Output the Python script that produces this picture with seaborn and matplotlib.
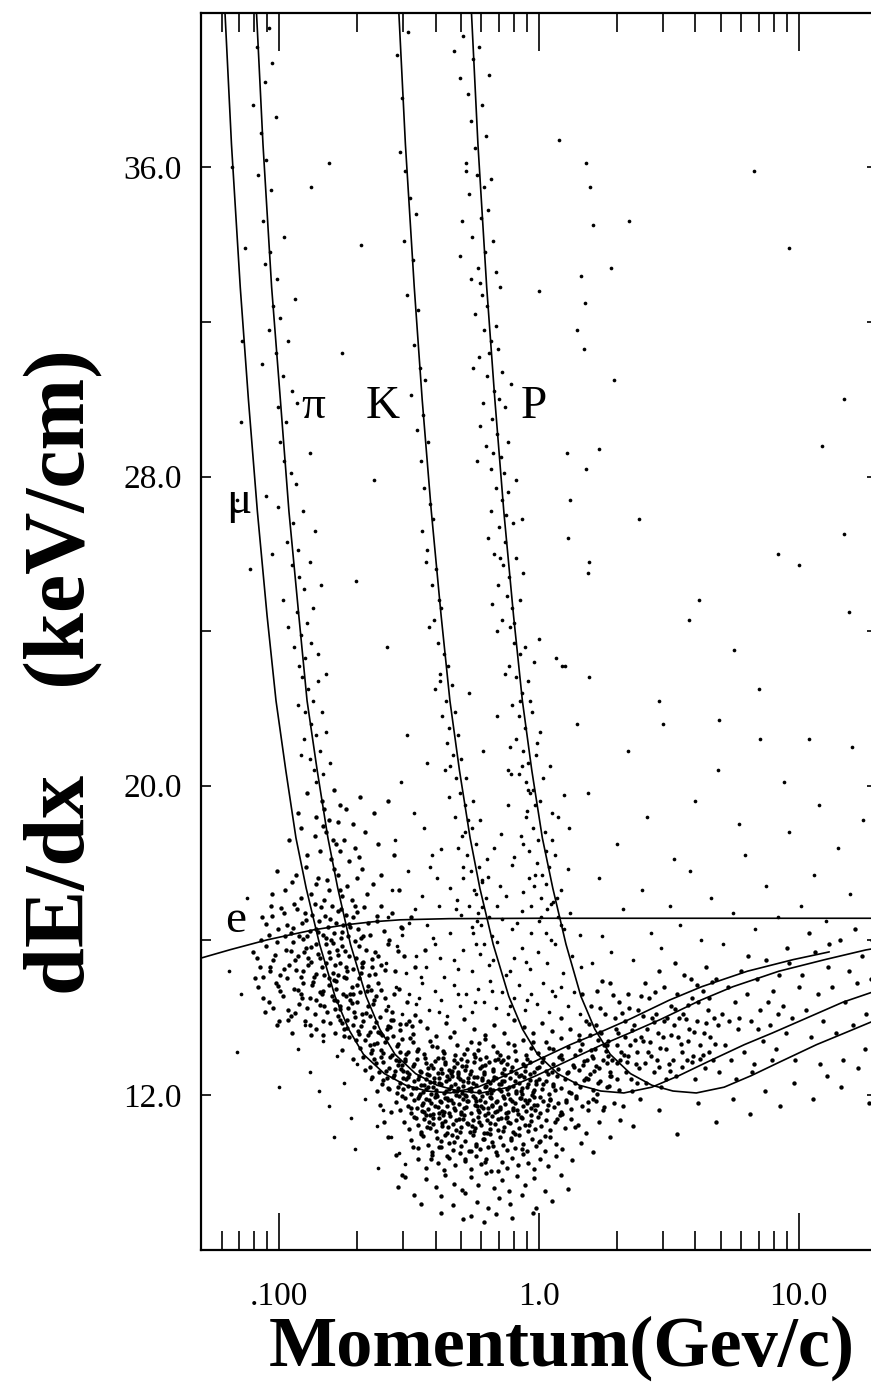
import matplotlib
matplotlib.use("Agg")
import matplotlib.pyplot as plt
from matplotlib.ticker import NullFormatter, FixedLocator
import pandas as pd
import seaborn as sns

# ---------------- expected dE/dx bands (p in GeV/c, dE/dx in keV/cm) ----------------
mu_p = [0.0602, 0.0655, 0.0708, 0.0761, 0.0824, 0.0898, 0.0972, 0.106, 0.116, 0.127,
        0.143, 0.164, 0.185, 0.211, 0.254, 0.307, 0.370, 0.455, 0.581, 0.740,
        0.951, 1.32, 1.69, 2.22, 3.17, 4.23, 6.34, 9.51, 13.1]
mu_dedx = [41.6, 36.6, 32.9, 30.0, 27.1, 24.4, 22.2, 20.4, 18.65, 17.35,
           15.9, 14.55, 13.7, 13.05, 12.55, 12.25, 12.1, 12.05, 12.2, 12.5,
           12.85, 13.3, 13.6, 13.95, 14.45, 14.8, 15.2, 15.5, 15.7]

pi_p = [0.0796, 0.0866, 0.0935, 0.101, 0.109, 0.119, 0.128, 0.140, 0.154, 0.168,
        0.188, 0.216, 0.244, 0.279, 0.335, 0.405, 0.489, 0.600, 0.768, 0.977,
        1.26, 1.75, 2.23, 2.93, 4.19, 5.58, 8.38, 12.6, 18.1, 20.0]
pi_dedx = [41.6, 36.6, 32.9, 30.0, 27.1, 24.4, 22.2, 20.4, 18.65, 17.35,
           15.9, 14.55, 13.7, 13.05, 12.55, 12.25, 12.1, 12.05, 12.2, 12.5,
           12.85, 13.3, 13.6, 13.95, 14.45, 14.8, 15.2, 15.5, 15.75, 15.8]

k_p = [0.281, 0.306, 0.331, 0.355, 0.385, 0.420, 0.454, 0.494, 0.543, 0.592,
       0.666, 0.765, 0.864, 0.987, 1.18, 1.43, 1.73, 2.12, 2.72, 3.46,
       4.44, 6.17, 7.90, 10.4, 14.8, 20.0]
k_dedx = [41.6, 36.6, 32.9, 30.0, 27.1, 24.4, 22.2, 20.4, 18.65, 17.35,
          15.9, 14.55, 13.7, 13.05, 12.55, 12.25, 12.1, 12.05, 12.2, 12.5,
          12.85, 13.3, 13.6, 13.95, 14.4, 14.7]

pr_p = [0.535, 0.582, 0.629, 0.676, 0.732, 0.798, 0.863, 0.938, 1.03, 1.13,
        1.27, 1.45, 1.64, 1.88, 2.25, 2.72, 3.28, 4.03, 5.16, 6.57,
        8.44, 11.7, 15.0, 20.0]
pr_dedx = [41.6, 36.6, 32.9, 30.0, 27.1, 24.4, 22.2, 20.4, 18.65, 17.35,
           15.9, 14.55, 13.7, 13.05, 12.55, 12.25, 12.1, 12.05, 12.2, 12.5,
           12.85, 13.3, 13.6, 13.95]

e_p = [0.05, 0.065, 0.0897, 0.11, 0.1355, 0.18, 0.23, 0.292, 0.45, 1.0, 20.0]
e_dedx = [15.54, 15.76, 16.01, 16.14, 16.27, 16.4, 16.48, 16.53, 16.56, 16.57, 16.57]

# ---------------- measured tracks (p, dE/dx) ----------------
pion_high = [
    (0.082, 39.1), (0.088, 38.2), (0.079, 37.6), (0.091, 39.6), (0.085, 36.9), (0.089, 36.2),
    (0.093, 35.4), (0.083, 35.8), (0.097, 37.3), (0.087, 34.6), (0.092, 33.8), (0.098, 33.1),
    (0.095, 32.4), (0.088, 33.5), (0.104, 34.2), (0.101, 32.1), (0.091, 31.8), (0.097, 31.2),
    (0.103, 30.6), (0.108, 31.5), (0.099, 29.8), (0.112, 30.2), (0.086, 30.9), (0.106, 29.4),
    (0.117, 29.9), (0.101, 28.9), (0.104, 28.4), (0.111, 28.1), (0.089, 27.5), (0.116, 27.8),
    (0.131, 28.6), (0.099, 27.2), (0.113, 26.8), (0.124, 27.1), (0.107, 26.3), (0.118, 26.1),
    (0.137, 26.6), (0.094, 26.0), (0.112, 25.7), (0.119, 25.4), (0.125, 25.1), (0.131, 25.8),
    (0.103, 24.8), (0.117, 24.5), (0.128, 24.2), (0.121, 23.9), (0.135, 24.6), (0.114, 23.6),
    (0.126, 23.3), (0.133, 23.7), (0.119, 23.1), (0.141, 23.4), (0.108, 24.1), (0.122, 22.8),
    (0.129, 22.5), (0.135, 22.2), (0.126, 21.9), (0.141, 22.7), (0.118, 22.1), (0.132, 21.6),
    (0.138, 21.3), (0.146, 21.9), (0.125, 21.2), (0.143, 20.9), (0.131, 20.7), (0.151, 21.4),
    (0.136, 20.4), (0.148, 20.3), (0.121, 20.8), (0.157, 20.6), (0.139, 20.1), (0.071, 29.4),
    (0.074, 33.9), (0.077, 25.6), (0.094, 38.7), (0.115, 32.6), (0.145, 25.2), (0.152, 22.9),
]

electron_cluster = [
    (0.128, 19.8), (0.146, 19.6), (0.163, 19.9), (0.181, 19.4), (0.139, 19.2), (0.155, 19.1),
    (0.172, 19.5), (0.205, 19.7), (0.231, 19.3), (0.149, 19.4), (0.192, 19.0), (0.262, 19.6),
    (0.118, 19.3), (0.168, 19.05), (0.121, 18.9), (0.137, 18.7), (0.152, 18.8), (0.166, 18.5),
    (0.143, 18.3), (0.158, 18.1), (0.178, 18.6), (0.196, 18.4), (0.214, 18.8), (0.128, 18.2),
    (0.185, 18.05), (0.241, 18.5), (0.161, 18.6), (0.109, 18.6), (0.276, 18.2), (0.203, 18.15),
    (0.147, 18.95), (0.172, 18.3), (0.098, 17.8), (0.112, 17.5), (0.127, 17.9), (0.141, 17.6),
    (0.156, 17.3), (0.133, 17.2), (0.168, 17.7), (0.149, 17.05), (0.183, 17.4), (0.121, 17.1),
    (0.175, 17.15), (0.199, 17.6), (0.217, 17.2), (0.105, 17.3), (0.162, 17.85), (0.138, 17.45),
    (0.246, 17.7), (0.191, 17.05), (0.229, 17.45), (0.289, 17.3), (0.116, 17.7), (0.153, 17.55),
    (0.094, 17.2), (0.172, 17.3), (0.208, 17.85),
    (0.086, 16.6), (0.093, 16.9), (0.099, 16.3), (0.104, 16.7), (0.111, 16.2), (0.117, 16.8),
    (0.122, 16.45), (0.128, 16.1), (0.134, 16.65), (0.139, 16.3), (0.145, 16.85), (0.151, 16.05),
    (0.157, 16.55), (0.163, 16.2), (0.169, 16.75), (0.176, 16.4), (0.184, 16.1), (0.192, 16.6),
    (0.201, 16.3), (0.212, 16.85), (0.224, 16.15), (0.238, 16.5), (0.253, 16.25), (0.271, 16.7),
    (0.295, 16.35), (0.321, 16.6), (0.091, 16.15), (0.107, 16.4), (0.114, 16.95), (0.126, 16.7),
    (0.131, 16.25), (0.142, 16.5), (0.148, 16.15), (0.159, 16.9), (0.166, 16.45), (0.173, 16.05),
    (0.181, 16.65), (0.196, 16.9), (0.207, 16.05), (0.219, 16.45), (0.119, 16.1), (0.137, 16.95),
    (0.154, 16.35), (0.247, 16.9), (0.187, 16.35),
    (0.079, 15.7), (0.084, 15.3), (0.089, 15.85), (0.095, 15.5), (0.101, 15.1), (0.106, 15.75),
    (0.109, 15.35), (0.113, 15.95), (0.118, 15.6), (0.123, 15.2), (0.127, 15.8), (0.132, 15.45),
    (0.136, 15.05), (0.141, 15.65), (0.146, 15.3), (0.152, 15.9), (0.157, 15.55), (0.161, 15.15),
    (0.167, 15.75), (0.172, 15.4), (0.178, 15.05), (0.186, 15.6), (0.193, 15.25), (0.202, 15.85),
    (0.211, 15.45), (0.221, 15.1), (0.233, 15.7), (0.246, 15.35), (0.262, 15.9), (0.279, 15.2),
    (0.301, 15.6), (0.333, 15.3), (0.365, 15.75), (0.087, 15.05), (0.098, 15.95), (0.104, 15.25),
    (0.115, 15.5), (0.121, 15.05), (0.129, 15.35), (0.138, 15.9), (0.144, 15.55), (0.149, 15.1),
    (0.155, 15.7), (0.164, 15.35), (0.175, 15.85), (0.183, 15.2), (0.197, 15.55), (0.207, 15.15),
    (0.216, 15.75), (0.227, 15.3), (0.082, 15.55), (0.092, 15.2), (0.125, 15.7), (0.169, 15.1),
    (0.239, 15.6),
    (0.083, 14.8), (0.091, 14.4), (0.097, 14.9), (0.103, 14.55), (0.108, 14.2), (0.114, 14.75),
    (0.119, 14.35), (0.124, 14.9), (0.131, 14.5), (0.137, 14.1), (0.143, 14.65), (0.149, 14.3),
    (0.156, 14.85), (0.162, 14.45), (0.169, 14.05), (0.176, 14.6), (0.184, 14.25), (0.191, 14.8),
    (0.199, 14.4), (0.209, 14.1), (0.218, 14.7), (0.229, 14.35), (0.241, 14.9), (0.255, 14.5),
    (0.271, 14.15), (0.288, 14.75), (0.311, 14.4), (0.088, 14.15), (0.101, 14.7), (0.111, 14.05),
    (0.121, 14.6), (0.128, 14.25), (0.134, 14.85), (0.147, 14.7), (0.153, 14.15), (0.166, 14.75),
    (0.172, 14.3), (0.181, 14.55), (0.194, 14.15), (0.205, 14.65), (0.224, 14.05), (0.236, 14.55),
    (0.095, 14.25), (0.139, 14.45), (0.159, 14.55),
    (0.098, 13.8), (0.112, 13.6), (0.126, 13.9), (0.139, 13.7), (0.148, 13.55), (0.157, 13.85),
    (0.164, 13.6), (0.171, 13.95), (0.178, 13.7), (0.186, 13.5), (0.193, 13.8), (0.201, 13.65),
    (0.211, 13.9), (0.219, 13.55), (0.232, 13.75), (0.244, 13.6), (0.108, 13.95), (0.133, 13.55),
    (0.175, 13.85), (0.261, 13.7),
    (0.089, 16.42), (0.096, 15.62), (0.102, 16.84), (0.107, 15.02), (0.113, 16.31), (0.118, 14.72),
    (0.124, 16.04), (0.129, 15.54), (0.135, 14.92), (0.141, 16.21), (0.146, 14.62), (0.152, 15.42),
    (0.158, 16.02), (0.163, 14.96), (0.169, 15.62), (0.175, 16.22), (0.181, 15.32), (0.188, 14.46),
    (0.195, 15.98), (0.203, 15.02), (0.211, 16.12), (0.219, 14.82), (0.228, 15.52), (0.237, 16.62),
    (0.246, 14.72), (0.255, 15.22), (0.265, 16.02), (0.276, 14.62), (0.287, 15.72), (0.298, 16.32),
    (0.092, 15.32), (0.099, 14.82), (0.105, 16.12), (0.111, 15.72), (0.116, 15.22), (0.122, 14.52),
    (0.127, 16.52), (0.133, 15.82), (0.139, 15.12), (0.144, 14.32), (0.15, 16.62), (0.156, 15.02),
    (0.161, 15.92), (0.167, 14.42), (0.173, 16.82), (0.179, 15.72), (0.186, 16.42), (0.193, 14.62),
    (0.2, 16.72), (0.208, 15.42), (0.085, 16.02), (0.081, 15.02), (0.087, 14.52), (0.094, 16.62),
    (0.1, 13.92), (0.115, 14.12), (0.131, 13.82), (0.148, 13.92), (0.164, 14.22), (0.182, 13.72),
]

minimum_cloud = [
    (0.224, 13.62), (0.236, 13.88), (0.249, 13.55), (0.262, 13.79), (0.275, 13.95), (0.291, 13.67),
    (0.308, 13.84), (0.326, 13.58), (0.348, 13.91), (0.372, 13.72), (0.401, 13.53), (0.437, 13.86),
    (0.472, 13.64), (0.515, 13.97), (0.563, 13.7), (0.618, 13.56), (0.672, 13.82), (0.731, 13.61),
    (0.802, 13.93), (0.874, 13.75), (0.951, 13.59), (1.03, 13.87), (1.12, 13.66), (1.21, 13.98),
    (1.32, 13.71), (1.43, 13.54), (1.56, 13.83), (1.71, 13.63), (0.268, 13.76), (0.315, 13.9),
    (0.205, 13.22), (0.214, 13.41), (0.226, 13.08), (0.238, 13.33), (0.247, 13.15), (0.259, 13.47),
    (0.271, 13.02), (0.284, 13.27), (0.297, 13.44), (0.312, 13.11), (0.327, 13.36), (0.343, 13.19),
    (0.361, 13.05), (0.382, 13.4), (0.404, 13.24), (0.428, 13.13), (0.455, 13.49), (0.483, 13.29),
    (0.514, 13.07), (0.546, 13.38), (0.582, 13.17), (0.621, 13.45), (0.664, 13.26), (0.709, 13.03),
    (0.758, 13.35), (0.811, 13.14), (0.868, 13.42), (0.929, 13.21), (0.994, 13.09), (1.06, 13.37),
    (1.13, 13.18), (1.21, 13.46), (1.29, 13.25), (1.38, 13.04), (1.47, 13.32), (1.58, 13.16),
    (1.69, 13.43), (1.82, 13.28), (0.231, 13.31), (0.292, 13.12),
    (0.223, 12.71), (0.231, 12.93), (0.242, 12.58), (0.251, 12.84), (0.258, 12.62), (0.266, 12.97),
    (0.277, 12.52), (0.286, 12.78), (0.295, 12.66), (0.304, 12.89), (0.317, 12.55), (0.328, 12.74),
    (0.339, 12.92), (0.352, 12.6), (0.366, 12.83), (0.378, 12.51), (0.391, 12.69), (0.407, 12.95),
    (0.422, 12.57), (0.436, 12.8), (0.452, 12.64), (0.469, 12.91), (0.488, 12.53), (0.506, 12.76),
    (0.527, 12.87), (0.548, 12.61), (0.569, 12.98), (0.592, 12.7), (0.616, 12.54), (0.641, 12.85),
    (0.667, 12.68), (0.693, 12.94), (0.722, 12.56), (0.752, 12.79), (0.783, 12.63), (0.815, 12.9),
    (0.849, 12.52), (0.884, 12.75), (0.921, 12.86), (0.959, 12.59), (0.998, 12.72), (1.04, 12.96),
    (1.08, 12.55), (1.13, 12.81), (1.18, 12.66), (1.23, 12.92), (1.29, 12.58), (1.35, 12.77),
    (1.42, 12.64), (1.49, 12.88), (1.57, 12.53), (1.66, 12.74), (1.76, 12.9), (1.87, 12.6),
    (1.99, 12.82),
    (0.252, 12.38), (0.263, 12.19), (0.274, 12.46), (0.283, 12.05), (0.291, 12.31), (0.299, 12.14),
    (0.307, 12.42), (0.314, 12.23), (0.321, 12.02), (0.329, 12.35), (0.337, 12.17), (0.344, 12.48),
    (0.352, 12.26), (0.359, 12.08), (0.367, 12.4), (0.375, 12.21), (0.384, 12.03), (0.393, 12.33),
    (0.402, 12.12), (0.411, 12.45), (0.42, 12.27), (0.43, 12.06), (0.44, 12.37), (0.451, 12.16),
    (0.462, 12.49), (0.473, 12.29), (0.484, 12.1), (0.496, 12.41), (0.508, 12.22), (0.521, 12.01),
    (0.534, 12.34), (0.547, 12.18), (0.56, 12.47), (0.574, 12.25), (0.588, 12.07), (0.603, 12.39),
    (0.618, 12.2), (0.633, 12.04), (0.649, 12.32), (0.665, 12.13), (0.682, 12.44), (0.699, 12.28),
    (0.717, 12.09), (0.735, 12.36), (0.754, 12.15), (0.773, 12.43), (0.793, 12.24), (0.813, 12.05),
    (0.834, 12.3), (0.856, 12.11), (0.878, 12.46), (0.901, 12.2), (0.925, 12.38), (0.95, 12.07),
    (0.976, 12.27), (1.0, 12.42), (1.03, 12.14), (1.06, 12.35), (1.09, 12.03), (1.13, 12.29),
    (1.17, 12.48), (1.21, 12.18), (1.26, 12.4), (1.31, 12.08), (1.37, 12.31), (1.44, 12.21),
    (1.52, 12.45), (1.61, 12.12), (1.72, 12.36), (1.86, 12.24),
    (0.281, 11.82), (0.293, 11.61), (0.304, 11.93), (0.313, 11.7), (0.322, 11.52), (0.33, 11.86),
    (0.338, 11.66), (0.346, 11.97), (0.353, 11.74), (0.36, 11.55), (0.368, 11.89), (0.375, 11.63),
    (0.383, 11.78), (0.391, 11.51), (0.399, 11.95), (0.407, 11.69), (0.415, 11.84), (0.424, 11.58),
    (0.433, 11.91), (0.442, 11.72), (0.451, 11.54), (0.46, 11.87), (0.47, 11.65), (0.48, 11.99),
    (0.49, 11.77), (0.5, 11.56), (0.511, 11.9), (0.522, 11.68), (0.533, 11.83), (0.545, 11.53),
    (0.557, 11.96), (0.569, 11.73), (0.581, 11.6), (0.594, 11.88), (0.607, 11.67), (0.62, 11.81),
    (0.634, 11.52), (0.648, 11.94), (0.662, 11.71), (0.677, 11.57), (0.692, 11.85), (0.708, 11.64),
    (0.724, 11.98), (0.74, 11.76), (0.757, 11.55), (0.774, 11.89), (0.792, 11.62), (0.81, 11.8),
    (0.829, 11.51), (0.849, 11.92), (0.869, 11.7), (0.89, 11.58), (0.912, 11.86), (0.935, 11.66),
    (0.958, 11.95), (0.982, 11.74), (1.01, 11.54), (1.04, 11.83), (1.07, 11.61), (1.1, 11.9),
    (1.14, 11.69), (1.18, 11.79), (1.22, 11.56), (1.27, 11.87), (1.33, 11.64), (1.39, 11.93),
    (1.46, 11.72), (1.55, 11.6), (1.66, 11.84), (1.78, 11.68),
    (0.302, 11.31), (0.316, 11.12), (0.329, 11.44), (0.341, 11.21), (0.352, 11.03), (0.362, 11.37),
    (0.372, 11.16), (0.382, 11.48), (0.392, 11.26), (0.402, 11.07), (0.412, 11.4), (0.422, 11.19),
    (0.433, 11.33), (0.444, 11.02), (0.455, 11.45), (0.466, 11.24), (0.478, 11.1), (0.49, 11.38),
    (0.502, 11.17), (0.515, 11.47), (0.528, 11.28), (0.541, 11.05), (0.555, 11.35), (0.569, 11.14),
    (0.583, 11.42), (0.598, 11.22), (0.613, 11.01), (0.629, 11.34), (0.645, 11.13), (0.662, 11.46),
    (0.679, 11.25), (0.697, 11.08), (0.715, 11.39), (0.734, 11.18), (0.753, 11.43), (0.773, 11.27),
    (0.794, 11.04), (0.815, 11.36), (0.837, 11.15), (0.86, 11.41), (0.884, 11.23), (0.909, 11.06),
    (0.935, 11.32), (0.962, 11.11), (0.99, 11.44), (1.02, 11.2), (1.06, 11.36), (1.1, 11.09),
    (1.15, 11.29), (1.2, 11.47), (1.26, 11.14), (1.33, 11.38), (1.41, 11.22), (0.376, 11.29),
    (0.563, 11.06),
    (0.322, 10.84), (0.341, 10.62), (0.358, 10.93), (0.373, 10.71), (0.389, 10.53), (0.404, 10.88),
    (0.419, 10.66), (0.434, 10.97), (0.45, 10.75), (0.466, 10.57), (0.483, 10.9), (0.5, 10.69),
    (0.518, 10.81), (0.536, 10.55), (0.555, 10.95), (0.574, 10.73), (0.594, 10.6), (0.615, 10.86),
    (0.636, 10.64), (0.658, 10.79), (0.681, 10.51), (0.705, 10.92), (0.73, 10.7), (0.756, 10.58),
    (0.783, 10.83), (0.811, 10.63), (0.84, 10.96), (0.871, 10.74), (0.903, 10.56), (0.937, 10.87),
    (0.973, 10.67), (1.01, 10.8), (1.05, 10.54), (1.1, 10.91), (1.16, 10.72), (1.23, 10.6),
    (0.471, 10.77), (0.648, 10.99),
    (0.342, 10.33), (0.366, 10.12), (0.388, 10.45), (0.409, 10.24), (0.43, 10.06), (0.452, 10.38),
    (0.474, 10.18), (0.497, 10.49), (0.521, 10.29), (0.546, 10.09), (0.572, 10.41), (0.599, 10.21),
    (0.627, 10.35), (0.656, 10.03), (0.687, 10.44), (0.719, 10.26), (0.753, 10.11), (0.789, 10.37),
    (0.827, 10.19), (0.867, 10.47), (0.91, 10.23), (0.956, 10.07), (1.01, 10.34), (1.08, 10.15),
    (1.16, 10.42),
    (0.368, 9.82), (0.402, 9.61), (0.436, 9.93), (0.471, 9.7), (0.507, 9.55), (0.545, 9.87),
    (0.584, 9.66), (0.626, 9.98), (0.671, 9.58), (0.718, 9.79), (0.769, 9.52), (0.825, 9.9),
    (0.886, 9.68), (0.957, 9.84), (0.418, 9.38), (0.468, 9.14), (0.521, 9.45), (0.578, 9.24),
    (0.638, 9.07), (0.704, 9.33), (0.776, 9.19), (0.858, 9.41), (0.547, 8.86), (0.683, 8.93),
    (0.612, 8.71),
    (0.281, 10.45), (0.263, 10.92), (0.306, 9.87), (0.331, 9.42), (0.297, 9.93), (1.21, 9.94),
    (1.34, 10.31), (1.45, 10.76), (1.29, 9.56), (1.12, 9.26), (1.52, 11.02), (1.62, 10.52),
    (0.287, 9.61), (0.352, 9.18), (0.974, 9.07), (1.05, 9.52), (0.42, 8.95), (0.79, 8.82),
    (0.95, 8.94), (0.508, 8.79), (0.326, 10.65), (1.38, 11.16), (1.7, 11.3), (1.88, 10.9),
    (2.05, 11.35), (0.253, 11.3), (0.244, 11.75), (0.237, 12.1), (0.27, 11.55),
]

# second pass over the densest part of the minimum-ionising region
minimum_core = [
    (0.347, 12.63), (0.512, 11.38), (0.729, 12.91), (0.418, 10.82), (0.934, 11.47), (0.603, 12.76),
    (0.381, 11.14), (1.12, 12.58), (0.457, 12.22), (0.667, 10.68), (0.289, 12.87), (0.842, 11.93),
    (0.529, 13.19), (0.397, 11.71), (1.27, 11.82), (0.574, 11.85), (0.762, 11.29), (0.431, 13.08),
    (0.983, 12.69), (0.336, 11.41), (0.619, 10.27), (0.488, 12.58), (0.811, 12.37), (0.365, 12.96),
    (0.705, 11.69), (1.05, 10.93), (0.546, 10.54), (0.412, 12.31), (0.893, 13.04), (0.314, 12.47),
    (0.651, 11.91), (0.474, 11.62), (1.19, 12.97), (0.589, 12.09), (0.352, 10.98), (0.778, 10.89),
    (0.443, 10.41), (0.956, 12.13), (0.532, 12.44), (0.687, 13.11), (0.403, 12.02), (1.36, 12.73),
    (0.617, 11.47), (0.298, 11.96), (0.857, 10.61), (0.495, 11.03), (0.741, 12.52), (0.389, 13.27),
    (1.08, 11.74), (0.561, 12.86), (0.425, 11.27), (0.918, 11.21), (0.636, 12.35), (0.326, 12.17),
    (0.799, 13.29), (0.469, 12.71), (1.61, 12.95), (0.518, 10.33), (0.695, 10.04), (0.372, 12.55),
    (0.996, 10.78), (0.585, 13.33), (0.448, 11.86), (0.823, 11.62), (0.356, 11.58), (0.663, 12.62),
    (1.23, 11.51), (0.502, 12.94), (0.727, 11.06), (0.414, 10.64), (0.871, 12.81), (0.607, 10.86),
    (0.3, 12.61), (1.44, 13.15), (0.551, 11.19), (0.683, 11.81), (0.436, 12.84), (0.945, 13.36),
    (0.383, 10.35), (0.757, 12.03), (0.523, 11.96), (1.15, 12.12), (0.339, 13.14), (0.626, 12.99),
    (0.462, 10.97), (0.887, 11.88), (0.572, 10.69), (0.717, 12.27), (0.395, 12.45), (1.03, 12.84),
    (0.489, 12.17), (0.808, 10.98), (0.361, 12.26), (0.645, 11.27), (1.33, 12.06), (0.541, 12.53),
    (0.427, 11.48), (0.968, 11.6), (0.598, 11.71), (0.309, 13.06), (0.746, 11.54), (0.475, 13.02),
    (1.09, 13.21), (0.405, 11.96), (0.672, 12.47), (0.863, 12.19), (0.514, 11.65), (0.377, 11.87),
    (0.787, 12.72), (0.557, 12.31), (1.49, 12.39), (0.438, 12.11), (0.925, 12.55), (0.632, 11.02),
    (0.323, 11.65), (0.701, 12.16), (0.479, 11.34), (1.01, 11.95), (0.586, 11.55), (0.368, 12.14),
    (0.834, 12.48), (0.526, 11.83), (0.452, 12.42), (0.654, 12.04), (1.17, 11.38), (0.391, 11.39),
    (0.767, 12.21), (0.505, 12.04), (0.902, 11.78), (0.612, 12.59), (0.343, 12.41), (0.735, 11.92),
    (0.466, 11.79), (1.28, 12.57), (0.566, 11.92), (0.419, 12.68), (0.852, 11.44), (0.594, 12.93),
    (0.385, 12.78), (0.689, 11.58), (0.537, 12.16), (0.976, 12.36), (0.447, 11.18), (0.712, 12.85),
    (0.358, 11.79), (1.06, 12.63), (0.623, 12.22), (0.493, 11.97), (0.797, 11.67), (0.432, 11.57),
    (0.578, 12.46), (0.882, 12.62), (0.399, 12.88), (0.661, 11.74), (0.517, 12.65), (1.39, 11.96),
    (0.458, 12.56), (0.749, 11.4), (0.349, 12.02), (0.605, 11.98), (0.94, 11.99), (0.483, 12.83),
    (0.676, 12.9), (0.411, 11.54), (0.819, 12.1), (0.549, 12.1), (1.13, 12.24), (0.374, 12.7),
    (0.639, 11.66), (0.499, 11.51), (0.763, 12.97), (0.444, 12.49), (0.911, 12.29), (0.588, 11.31),
    (0.331, 12.79), (0.723, 12.37), (0.471, 12.09), (1.21, 13.04), (0.535, 11.25), (0.408, 12.57),
    (0.857, 12.03), (0.617, 12.78), (0.392, 12.21), (0.694, 11.38), (0.562, 13.06), (0.427, 12.96),
    (0.784, 11.83), (0.509, 12.35), (1.04, 12.28), (0.367, 11.47), (0.648, 12.15), (0.462, 12.62),
    (0.897, 12.93), (0.578, 11.71), (0.342, 11.92), (0.731, 12.68), (0.487, 12.46), (0.956, 11.74),
    (0.601, 12.44), (0.419, 11.81), (0.814, 12.57), (0.523, 12.75), (0.379, 12.34), (0.668, 12.39),
    (0.441, 11.93), (1.1, 11.86),
    (0.172, 14.22), (0.183, 13.93), (0.191, 14.38), (0.198, 13.41), (0.207, 13.77), (0.216, 14.12),
    (0.223, 13.28), (0.231, 14.45), (0.239, 13.62), (0.247, 12.97), (0.256, 13.36), (0.264, 12.69),
    (0.273, 13.53), (0.282, 12.91), (0.291, 13.84), (0.3, 12.44), (0.187, 14.61), (0.195, 14.02),
    (0.203, 13.58), (0.211, 12.99), (0.219, 14.31), (0.228, 13.17), (0.236, 12.82), (0.244, 14.02),
    (0.252, 13.09), (0.261, 12.44), (0.269, 13.94), (0.278, 12.62), (0.287, 13.31), (0.296, 12.77),
    (0.177, 13.52), (0.213, 12.64), (0.249, 12.28), (0.286, 12.21), (0.199, 14.84), (0.226, 14.71),
    (0.258, 14.19), (0.181, 15.02), (0.209, 15.31), (0.234, 15.12), (0.166, 14.94), (0.193, 12.93),
    (0.227, 12.46), (0.265, 12.16), (0.304, 12.92), (0.318, 13.47), (0.333, 14.07), (0.311, 12.6),
    (0.325, 13.78), (0.174, 13.16),
]

rise_band = [
    (1.52, 13.9), (1.55, 12.4), (1.58, 14.3), (1.61, 11.9), (1.64, 13.2), (1.67, 14.7), (1.7, 12.7),
    (1.73, 13.6), (1.76, 11.6), (1.79, 14.1), (1.82, 12.2), (1.85, 13.4), (1.88, 14.9), (1.91, 12.9),
    (1.94, 11.8), (1.97, 13.7), (2.0, 12.4), (2.03, 14.4), (2.07, 13.1), (2.1, 11.7), (2.14, 13.9),
    (2.17, 12.6), (2.21, 14.6), (2.24, 13.3), (2.28, 12.1), (2.32, 13.8), (2.36, 12.8), (2.4, 14.2),
    (2.44, 11.9), (2.48, 13.5), (1.6, 13.0), (1.69, 12.3), (1.78, 13.3), (1.87, 12.5), (1.96, 14.0),
    (2.05, 12.9), (2.15, 13.5), (2.26, 12.4), (2.38, 13.1), (1.53, 12.9), (1.65, 13.8), (1.84, 13.0),
    (2.02, 13.6), (2.2, 13.0), (2.42, 12.7),
    (2.52, 13.4), (2.58, 12.3), (2.64, 14.5), (2.7, 13.0), (2.76, 12.6), (2.82, 14.1), (2.88, 13.6),
    (2.95, 12.2), (3.02, 14.8), (3.09, 13.2), (3.16, 12.8), (3.23, 14.3), (3.3, 13.8), (3.38, 12.5),
    (3.46, 14.0), (3.54, 13.1), (3.62, 15.1), (3.7, 12.9), (3.79, 13.7), (3.88, 14.5), (3.97, 12.4),
    (4.06, 13.9), (4.16, 13.3), (4.26, 14.7), (4.36, 12.7), (4.46, 14.2), (4.57, 13.5), (4.68, 12.9),
    (4.79, 15.0), (4.9, 13.8), (2.6, 13.7), (2.73, 14.0), (2.85, 12.9), (3.0, 13.5), (3.12, 14.0),
    (3.27, 12.9), (3.42, 13.5), (3.58, 14.1), (3.74, 13.4), (3.92, 13.0), (4.1, 14.4), (4.3, 13.6),
    (4.5, 13.1), (4.72, 14.0), (2.55, 14.9), (2.9, 15.2), (3.35, 15.4), (3.85, 15.0), (4.4, 15.3),
    (4.95, 12.6),
    (1.43, 13.42), (1.48, 12.78), (1.57, 13.56), (1.63, 12.61), (1.72, 14.24), (1.81, 13.14),
    (1.9, 12.48), (1.99, 13.29), (2.09, 14.11), (2.19, 12.86), (2.29, 13.67), (2.39, 12.32),
    (2.51, 14.04), (2.63, 13.12), (2.76, 13.88), (2.89, 12.72), (3.03, 13.92), (3.18, 12.62),
    (3.34, 14.22), (3.51, 13.32), (3.68, 13.96), (3.87, 12.84), (4.07, 14.84), (4.28, 13.02),
    (4.51, 14.52), (4.74, 13.32), (1.46, 14.62), (1.54, 11.82), (1.67, 12.03), (1.75, 14.94),
    (1.83, 12.82), (1.93, 14.58), (2.04, 12.12), (2.13, 13.04), (2.23, 14.26), (2.34, 13.42),
    (2.46, 14.56), (2.57, 12.82), (2.68, 13.36), (2.8, 14.66), (2.93, 13.22), (3.07, 12.42),
    (3.21, 13.56), (3.39, 14.62), (3.56, 12.72), (3.76, 14.32), (3.96, 13.62), (4.17, 12.92),
    (4.39, 13.86), (4.63, 14.92),
    (5.05, 14.1), (5.2, 13.3), (5.35, 14.8), (5.5, 12.9), (5.66, 14.4), (5.82, 13.7), (5.99, 15.2),
    (6.16, 13.1), (6.34, 14.6), (6.52, 13.9), (6.71, 12.8), (6.9, 15.0), (7.1, 14.2), (7.3, 13.4),
    (7.51, 15.5), (7.73, 13.8), (7.95, 14.7), (8.18, 13.2), (8.42, 15.1), (8.66, 14.3), (8.91, 13.6),
    (9.17, 15.4), (9.43, 14.0), (9.7, 12.9), (9.98, 14.8), (5.4, 13.9), (5.9, 14.0), (6.4, 15.6),
    (6.95, 13.7), (7.6, 14.4), (8.3, 14.1), (9.0, 15.8), (5.75, 12.4), (6.6, 12.6), (7.9, 12.9),
    (10.3, 15.1), (10.7, 14.2), (11.1, 13.5), (11.5, 15.7), (11.9, 14.6), (12.4, 13.9), (12.9, 15.3),
    (13.4, 14.8), (13.9, 13.6), (14.4, 16.0), (15.0, 14.4), (15.6, 15.2), (16.2, 13.8), (16.8, 14.9),
    (17.5, 15.6), (18.2, 14.1), (18.9, 15.0), (19.5, 13.5), (10.9, 16.2), (12.1, 12.8), (13.1, 15.9),
    (14.8, 12.9), (16.5, 16.3), (18.0, 13.2), (19.2, 16.0),
    (2.3, 11.2), (2.9, 11.6), (3.4, 11.0), (4.1, 11.8), (4.8, 11.3), (5.6, 11.9), (6.5, 11.5),
    (7.4, 12.1), (8.5, 11.7), (9.6, 12.3), (11.3, 11.9), (12.8, 12.5), (14.6, 12.2), (16.9, 12.7),
    (18.7, 11.8),
]

kaon_band = [
    (0.283, 38.9), (0.297, 37.8), (0.312, 39.5), (0.291, 36.4), (0.305, 35.9), (0.318, 35.2),
    (0.302, 34.1), (0.327, 33.6), (0.336, 34.8), (0.311, 32.7), (0.342, 32.3), (0.331, 31.4),
    (0.347, 30.8), (0.322, 30.1), (0.358, 29.6), (0.339, 29.2), (0.365, 30.5), (0.351, 28.4),
    (0.374, 28.9), (0.362, 27.7), (0.381, 27.3), (0.356, 26.6), (0.392, 26.9), (0.372, 26.1),
    (0.403, 25.6), (0.387, 25.2), (0.366, 25.8), (0.412, 24.8), (0.395, 24.3), (0.421, 24.6),
    (0.378, 24.1), (0.408, 23.7), (0.431, 23.4), (0.417, 22.9), (0.446, 23.1), (0.399, 22.5),
    (0.438, 22.2), (0.462, 22.6), (0.425, 21.8), (0.451, 21.5), (0.476, 21.9), (0.441, 21.1),
    (0.468, 20.8), (0.489, 21.3), (0.455, 20.5), (0.502, 20.7), (0.481, 20.2), (0.433, 20.4),
    (0.497, 19.8), (0.518, 19.5), (0.474, 19.2), (0.535, 19.1), (0.506, 18.7), (0.552, 18.9),
    (0.489, 18.4), (0.528, 18.2), (0.571, 18.5), (0.546, 17.8), (0.512, 17.6), (0.589, 17.9),
    (0.563, 17.3), (0.605, 17.5), (0.537, 16.9), (0.581, 16.7), (0.624, 17.1), (0.598, 16.4),
    (0.556, 16.2), (0.643, 16.6), (0.615, 15.9),
]

proton_band = [
    (0.512, 39.4), (0.558, 38.8), (0.531, 37.9), (0.589, 39.1), (0.547, 37.2), (0.498, 38.3),
    (0.604, 37.6), (0.566, 36.5), (0.522, 36.1), (0.623, 36.8), (0.471, 39.0), (0.642, 38.4),
    (0.577, 35.8), (0.538, 35.3), (0.612, 35.5), (0.596, 34.7), (0.553, 34.2), (0.638, 34.9),
    (0.507, 34.6), (0.621, 33.8), (0.581, 33.4), (0.664, 34.1), (0.545, 33.1), (0.603, 32.7),
    (0.682, 33.3), (0.632, 32.4), (0.566, 32.2), (0.705, 32.9), (0.523, 35.9), (0.655, 35.7),
    (0.592, 33.0), (0.498, 33.7),
    (0.615, 31.8), (0.652, 31.5), (0.587, 31.1), (0.694, 31.3), (0.633, 30.6), (0.672, 30.2),
    (0.558, 30.8), (0.718, 30.7), (0.609, 29.9), (0.657, 29.5), (0.741, 29.8), (0.688, 29.1),
    (0.626, 28.8), (0.712, 28.5), (0.763, 28.9), (0.653, 28.2), (0.594, 29.3), (0.735, 28.1),
    (0.681, 31.9), (0.579, 28.4), (0.702, 30.0), (0.64, 31.2), (0.782, 30.4), (0.665, 28.6),
    (0.684, 27.7), (0.722, 27.4), (0.651, 27.1), (0.761, 27.6), (0.703, 26.7), (0.741, 26.3),
    (0.672, 26.0), (0.792, 26.8), (0.729, 25.7), (0.768, 25.4), (0.695, 25.2), (0.817, 25.9),
    (0.752, 24.9), (0.789, 24.6), (0.718, 24.3), (0.843, 24.8), (0.776, 24.1), (0.814, 27.9),
    (0.634, 26.4), (0.66, 24.7), (0.866, 25.5), (0.745, 27.0), (0.801, 24.2), (0.708, 25.9),
    (0.858, 26.9), (0.688, 24.0),
    (0.801, 23.7), (0.842, 23.4), (0.768, 23.1), (0.883, 23.6), (0.817, 22.8), (0.862, 22.4),
    (0.79, 22.1), (0.911, 22.7), (0.839, 21.8), (0.884, 21.5), (0.812, 21.2), (0.944, 21.9),
    (0.866, 20.9), (0.908, 20.6), (0.836, 20.3), (0.972, 20.8), (0.893, 20.1), (0.742, 22.9),
    (0.958, 23.2), (0.771, 21.0), (1.01, 21.4), (0.925, 22.2), (0.757, 20.4), (0.998, 23.8),
    (0.857, 20.5), (1.04, 20.2),
    (0.923, 19.8), (0.968, 19.5), (0.891, 19.2), (1.01, 19.6), (0.947, 18.9), (0.992, 18.6),
    (0.918, 18.3), (1.05, 18.8), (0.984, 18.0), (1.03, 17.7), (0.955, 17.4), (1.09, 17.9),
    (1.02, 17.1), (1.07, 16.8), (0.998, 16.5), (1.13, 17.0), (1.06, 16.2), (1.11, 16.0),
    (1.18, 16.6), (0.87, 18.5), (1.15, 18.2), (0.935, 16.9), (1.22, 17.3), (0.905, 19.9),
    (1.12, 19.3), (1.25, 16.3),
]

halo = [
    (0.262, 14.3), (0.281, 14.8), (0.298, 14.1), (0.317, 14.6), (0.336, 14.35), (0.355, 14.9),
    (0.377, 14.2), (0.398, 14.7), (0.42, 14.45), (0.444, 14.05), (0.469, 14.85), (0.495, 14.3),
    (0.522, 14.6), (0.551, 14.15), (0.581, 14.75), (0.613, 14.4), (0.646, 14.95), (0.681, 14.25),
    (0.718, 14.65), (0.757, 14.1), (0.798, 14.5), (0.841, 14.85), (0.886, 14.2), (0.934, 14.6),
    (0.984, 14.35), (1.04, 14.9), (1.09, 14.15), (1.15, 14.55), (1.22, 14.8), (1.29, 14.3),
    (1.36, 14.65), (1.44, 14.1), (0.346, 14.5), (0.411, 14.15), (0.488, 14.6), (0.566, 14.4),
    (0.66, 14.7), (0.77, 14.3), (0.9, 14.45), (1.12, 14.7),
    (0.258, 15.4), (0.283, 15.85), (0.309, 15.15), (0.337, 15.6), (0.366, 15.3), (0.398, 15.9),
    (0.432, 15.05), (0.469, 15.5), (0.508, 15.75), (0.55, 15.2), (0.594, 15.65), (0.641, 15.35),
    (0.692, 15.95), (0.745, 15.1), (0.802, 15.55), (0.862, 15.8), (0.926, 15.25), (0.994, 15.7),
    (1.07, 15.4), (1.15, 15.9), (1.24, 15.15), (1.34, 15.6), (1.45, 15.3), (0.35, 15.05),
    (0.415, 15.55), (0.487, 15.25), (0.572, 15.9), (0.668, 15.5), (0.775, 15.2), (0.89, 15.45),
    (0.262, 16.6), (0.297, 16.15), (0.334, 16.8), (0.372, 16.4), (0.412, 16.9), (0.455, 16.2),
    (0.501, 16.65), (0.55, 16.35), (0.603, 16.85), (0.66, 16.1), (0.721, 16.55), (0.787, 16.3),
    (0.858, 16.75), (0.935, 16.2), (1.02, 16.6), (1.11, 16.95), (1.21, 16.4), (1.32, 16.7),
    (1.44, 16.15), (0.316, 16.45), (0.392, 16.05), (0.478, 16.8), (0.576, 16.5), (0.69, 16.9),
    (0.822, 16.45),
    (0.271, 17.3), (0.312, 17.8), (0.356, 17.15), (0.404, 17.6), (0.455, 17.35), (0.511, 17.9),
    (0.572, 17.2), (0.638, 17.65), (0.71, 17.4), (0.787, 17.95), (0.871, 17.25), (0.962, 17.7),
    (1.06, 17.45), (1.17, 17.1), (1.29, 17.85), (0.38, 17.9), (0.483, 17.05), (0.604, 17.55),
    (0.748, 17.15), (0.915, 17.6),
    (0.278, 18.6), (0.33, 19.3), (0.387, 18.2), (0.449, 19.7), (0.517, 18.8), (0.591, 19.1),
    (0.671, 18.4), (0.757, 19.5), (0.851, 18.7), (0.952, 19.9), (1.06, 18.3), (1.18, 19.2),
    (1.31, 18.9), (0.36, 18.9), (0.42, 18.35), (0.555, 19.6), (0.632, 18.1), (0.712, 18.75),
    (0.803, 18.15), (0.9, 19.35), (1.12, 18.6), (1.25, 19.75),
    (0.31, 21.3), (0.372, 20.6), (0.54, 22.4), (0.61, 20.9), (0.689, 21.8), (0.78, 20.3),
    (0.98, 21.1), (1.1, 20.5), (1.23, 23.1), (0.415, 22.7), (0.26, 23.6), (0.843, 22.2),
    (1.4, 21.6), (0.525, 20.2), (0.295, 20.1),
    (1.6, 15.4), (1.75, 16.1), (1.9, 15.7), (2.1, 16.8), (2.3, 15.5), (2.5, 17.3), (2.7, 16.2),
    (2.95, 15.8), (3.2, 16.9), (3.5, 16.4), (3.8, 17.8), (4.2, 16.0), (4.6, 17.1), (5.1, 15.9),
    (5.6, 16.7), (6.2, 18.2), (6.8, 16.3), (7.5, 17.4), (8.3, 16.6), (9.2, 18.8), (10.2, 16.9),
    (11.4, 17.7), (12.7, 16.5), (14.1, 18.4), (15.8, 17.2), (17.6, 19.1), (1.7, 17.6), (2.0, 18.5),
    (2.6, 19.2), (3.3, 18.1), (4.0, 19.6), (4.9, 20.4), (5.9, 19.0), (7.1, 21.2), (1.55, 19.8),
    (2.2, 20.9), (3.0, 21.6), (8.8, 20.1), (12.0, 19.5), (16.0, 21.0),
]

sparse = [
    (1.19, 36.7), (1.57, 35.5), (1.89, 33.4), (2.22, 34.6), (1.40, 31.8), (1.70, 28.7),
    (2.42, 26.9), (4.12, 24.8), (1.94, 30.5), (6.71, 35.9), (9.14, 33.9), (12.3, 28.8),
    (14.9, 26.5), (8.35, 26.0), (10.0, 25.7), (3.77, 24.3), (5.62, 23.5), (15.6, 24.5),
    (2.9, 22.2), (4.93, 21.7), (7.03, 22.5), (10.9, 21.2), (14.9, 30.0),
    (1.52, 36.1), (1.61, 34.5), (1.45, 33.2), (1.50, 32.5), (1.0, 32.8), (1.49, 31.3),
    (1.52, 28.2), (1.28, 28.6), (1.32, 27.4), (1.29, 26.4), (1.56, 25.8), (1.54, 25.5),
    (1.56, 22.8), (1.26, 23.1), (1.16, 23.3),
    (0.133, 35.5), (0.207, 34.0), (0.156, 36.1), (0.175, 31.2), (0.232, 27.9), (0.198, 25.3),
    (0.066, 36.0), (0.072, 31.5), (0.069, 27.4),
    (0.118, 13.2), (0.131, 12.6), (0.142, 12.1), (0.155, 11.7), (0.167, 13.0), (0.178, 12.3),
    (0.189, 11.4), (0.2, 12.8), (0.213, 11.9), (0.226, 12.4), (0.238, 11.2), (0.252, 11.6),
    (0.27, 10.9), (0.288, 10.5), (0.305, 10.2), (0.147, 13.4), (0.126, 13.8), (0.162, 10.9),
    (0.195, 10.6), (0.241, 10.1), (0.071, 14.6), (0.064, 15.2), (0.075, 17.1), (0.069, 13.1),
    (0.1, 12.2),
]

x_major = [0.1, 1.0, 10.0]
x_major_labels = [".100", "1.0", "10.0"]
x_minor = [0.06, 0.07, 0.08, 0.09, 0.2, 0.3, 0.4, 0.5, 0.6, 0.7, 0.8, 0.9,
           2, 3, 4, 5, 6, 7, 8, 9]
y_major = [12, 20, 28, 36]
y_major_labels = ["12.0", "20.0", "28.0", "36.0"]
y_minor = [16, 24, 32]

band_labels = [("μ", 0.0699, 27.06), ("π", 0.1352, 29.52), ("K", 0.2512, 29.52),
               ("P", 0.957, 29.52), ("e", 0.0677, 16.22)]

# ---------------- assemble tables ----------------
dense_groups = [electron_cluster, minimum_cloud, minimum_core, rise_band]
thin_groups = [pion_high, kaon_band, proton_band, halo, sparse]
dense_tracks = pd.DataFrame([pt for g in dense_groups for pt in g], columns=["p", "dedx"])
thin_tracks = pd.DataFrame([pt for g in thin_groups for pt in g], columns=["p", "dedx"])

curve_frames = []
for name, xs, ys in [("mu", mu_p, mu_dedx), ("pi", pi_p, pi_dedx), ("K", k_p, k_dedx),
                     ("P", pr_p, pr_dedx), ("e", e_p, e_dedx)]:
    curve_frames.append(pd.DataFrame({"p": xs, "dedx": ys, "band": name}))
curves = pd.concat(curve_frames, ignore_index=True)

# ---------------- figure ----------------
sns.set_style("white")
serif = ["Liberation Serif", "DejaVu Serif"]
plt.rcParams["font.family"] = serif
for key in ["text.color", "axes.labelcolor", "xtick.color", "ytick.color", "axes.edgecolor"]:
    plt.rcParams[key] = "black"

W, H = 871, 1385
fig = plt.figure(figsize=(W / 100, H / 100), dpi=100)
ax = fig.add_axes([201 / W, 1 - 1249.5 / H, 676 / W, 1236.8 / H])
ax.set_xscale("log")

sns.scatterplot(data=thin_tracks, x="p", y="dedx", ax=ax, color="black", s=7,
                linewidth=0, marker="o", legend=False, zorder=2)
sns.scatterplot(data=dense_tracks, x="p", y="dedx", ax=ax, color="black", s=10,
                linewidth=0, marker="o", legend=False, zorder=2)
sns.lineplot(data=curves, x="p", y="dedx", units="band", estimator=None, sort=False,
             ax=ax, color="black", linewidth=1.2, legend=False, zorder=3)

ax.set_xlim(0.05, 20)
ax.set_ylim(8, 40)

ax.xaxis.set_major_locator(FixedLocator(x_major))
ax.set_xticklabels(x_major_labels)
ax.xaxis.set_minor_locator(FixedLocator(x_minor))
ax.xaxis.set_minor_formatter(NullFormatter())
ax.yaxis.set_major_locator(FixedLocator(y_major))
ax.set_yticklabels(y_major_labels)
ax.yaxis.set_minor_locator(FixedLocator(y_minor))

ax.tick_params(axis="x", which="major", direction="in", length=27, width=1.2,
               top=True, bottom=True, labelsize=24, pad=23, colors="black")
ax.tick_params(axis="x", which="minor", direction="in", length=14, width=1.2,
               top=True, bottom=True, colors="black")
ax.tick_params(axis="y", which="both", direction="in", length=7, width=1.2,
               left=True, right=True, labelsize=24, pad=14, colors="black")
for sp in ax.spines.values():
    sp.set_linewidth(1.6)
    sp.set_color("black")

for txt, px, py in band_labels:
    ax.text(px, py, txt, fontsize=34, ha="center", va="baseline", family=serif,
            color="black")

ax.set_xlabel("Momentum(Gev/c)", fontsize=52, fontweight="bold", family=serif,
              color="black")
ax.xaxis.set_label_coords(0.534, -0.0535)
ax.set_ylabel("dE/dx    (keV/cm)", fontsize=62, fontweight="bold", family=serif,
              color="black")
ax.yaxis.set_label_coords(-0.146, 0.467)

fig.savefig("out.png", dpi=100, facecolor="white")
